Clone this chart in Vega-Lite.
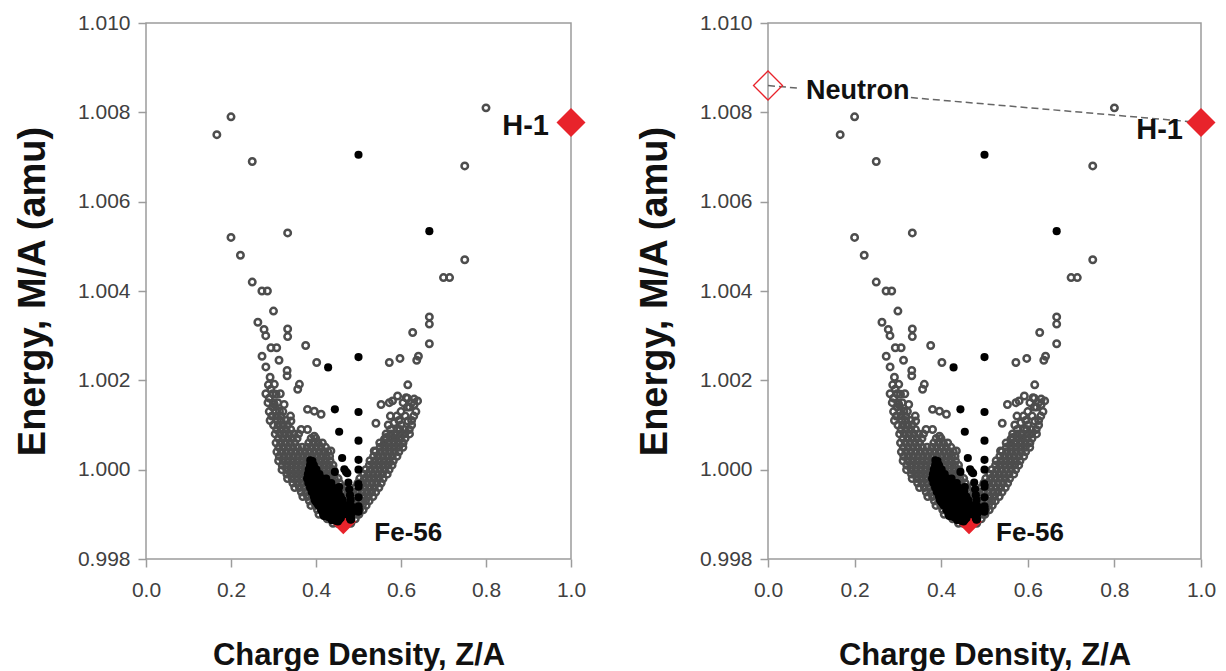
{
"$schema": "https://vega.github.io/schema/vega-lite/v6.json",
"background": "white",
"padding": {"left": 13, "top": 11, "right": 5, "bottom": 0},
"spacing": 48,
"config": {
 "view": {"stroke": "#9c9c9c", "strokeWidth": 1.5},
 "axis": {"domain": false, "grid": false, "labelFlush": false, "tickColor": "#9c9c9c", "tickWidth": 1.5, "tickSize": 8, "labelFont": "Liberation Sans", "labelFontSize": 21, "labelColor": "#404040", "labelPadding": 8, "titleFont": "Liberation Sans", "titleFontWeight": "bold", "titleColor": "#111111"},
 "axisX": {"labelPadding": 12, "titlePadding": 40, "titleFontSize": 31},
 "axisY": {"titlePadding": 25, "titleFontSize": 38}
},
"datasets": {
 "open": [
  {"z":0.1667,"m":1.0075},{"z":0.2,"m":1.0079},{"z":0.25,"m":1.0069},{"z":0.8,"m":1.0081},{"z":0.75,"m":1.0068},{"z":0.2,"m":1.0052},{"z":0.3333,"m":1.0053},{"z":0.2222,"m":1.0048},{"z":0.75,"m":1.0047},{"z":0.25,"m":1.0042},{"z":0.2727,"m":1.004},{"z":0.2857,"m":1.004},{"z":0.7,"m":1.0043},{"z":0.7143,"m":1.0043},{"z":0.3,"m":1.00355},{"z":0.2632,"m":1.0033},{"z":0.2778,"m":1.00314},{"z":0.2817,"m":1.003},{"z":0.3333,"m":1.00315},{"z":0.3333,"m":1.00298},{"z":0.6667,"m":1.00342},{"z":0.6667,"m":1.00326},{"z":0.6275,"m":1.00307},{"z":0.3757,"m":1.00278},{"z":0.6667,"m":1.00282},{"z":0.294,"m":1.00273},{"z":0.3075,"m":1.00273},{"z":0.273,"m":1.00254},{"z":0.313,"m":1.00245},{"z":0.4016,"m":1.0024},{"z":0.5725,"m":1.0024},{"z":0.5976,"m":1.00249},{"z":0.637,"m":1.00245},{"z":0.641,"m":1.00254},{"z":0.282,"m":1.0023},{"z":0.332,"m":1.00222},{"z":0.332,"m":1.0021},{"z":0.292,"m":1.00207},{"z":0.616,"m":1.0019},{"z":0.302,"m":1.00191},{"z":0.294,"m":1.0018},{"z":0.306,"m":1.00169},{"z":0.361,"m":1.00191},{"z":0.357,"m":1.0018},{"z":0.302,"m":1.00146},{"z":0.314,"m":1.00131},{"z":0.325,"m":1.00146},{"z":0.38,"m":1.00135},{"z":0.396,"m":1.00131},{"z":0.412,"m":1.00124},{"z":0.341,"m":1.00109},{"z":0.365,"m":1.0009},{"z":0.38,"m":1.0009},{"z":0.396,"m":1.00075},{"z":0.435,"m":1.00042},{"z":0.592,"m":1.00165},{"z":0.612,"m":1.00161},{"z":0.631,"m":1.00158},{"z":0.631,"m":1.00146},{"z":0.553,"m":1.00146},{"z":0.5725,"m":1.0015},{"z":0.541,"m":1.00104},{"z":0.584,"m":1.00105},{"z":0.616,"m":1.00109},{"z":0.592,"m":1.0009},{"z":0.565,"m":1.00072},{"z":0.584,"m":1.00064},{"z":0.537,"m":1.00042},{"z":0.58,"m":1.00154},{"z":0.639,"m":1.00154},{"z":0.561,"m":1.00068},
  {"z":0.29,"m":1.0016},{"z":0.298,"m":1.0014},{"z":0.31,"m":1.0015},{"z":0.296,"m":1.0012},{"z":0.309,"m":1.0011},{"z":0.318,"m":1.0012},{"z":0.33,"m":1.0011},{"z":0.288,"m":1.0019},{"z":0.316,"m":1.0017},{"z":0.6,"m":1.0013},{"z":0.61,"m":1.0012},{"z":0.62,"m":1.0014},{"z":0.625,"m":1.0011},{"z":0.595,"m":1.0011},{"z":0.575,"m":1.0012},
  {"z":0.282,"m":1.0017},{"z":0.298,"m":1.0017},{"z":0.287,"m":1.0015},{"z":0.3,"m":1.0015},{"z":0.29,"m":1.0013},{"z":0.305,"m":1.0013},{"z":0.322,"m":1.0013},{"z":0.307,"m":1.0012},{"z":0.34,"m":1.0012},{"z":0.292,"m":1.0011},{"z":0.318,"m":1.0011},{"z":0.605,"m":1.0015},{"z":0.615,"m":1.0016},{"z":0.625,"m":1.0015},{"z":0.635,"m":1.0013},{"z":0.615,"m":1.0014},{"z":0.59,"m":1.0012},{"z":0.63,"m":1.0012},
  {"z":0.3,"m":1.001},{"z":0.311,"m":1.001},{"z":0.322,"m":1.001},{"z":0.333,"m":1.001},{"z":0.57,"m":1.001},{"z":0.6,"m":1.001},{"z":0.625,"m":1.001},
  {"z":0.3075,"m":1.0009},{"z":0.3185,"m":1.0009},{"z":0.3295,"m":1.0009},{"z":0.3405,"m":1.0009},{"z":0.5755,"m":1.0009},{"z":0.5975,"m":1.0009},{"z":0.6085,"m":1.0009},{"z":0.6195,"m":1.0009},
  {"z":0.304,"m":1.0008},{"z":0.315,"m":1.0008},{"z":0.326,"m":1.0008},{"z":0.337,"m":1.0008},{"z":0.348,"m":1.0008},{"z":0.359,"m":1.0008},{"z":0.565,"m":1.0008},{"z":0.576,"m":1.0008},{"z":0.587,"m":1.0008},{"z":0.598,"m":1.0008},{"z":0.609,"m":1.0008},{"z":0.62,"m":1.0008},
  {"z":0.3115,"m":1.0007},{"z":0.3225,"m":1.0007},{"z":0.3335,"m":1.0007},{"z":0.3445,"m":1.0007},{"z":0.3555,"m":1.0007},{"z":0.3885,"m":1.0007},{"z":0.3995,"m":1.0007},{"z":0.5655,"m":1.0007},{"z":0.5765,"m":1.0007},{"z":0.5875,"m":1.0007},{"z":0.5985,"m":1.0007},{"z":0.6095,"m":1.0007},
  {"z":0.306,"m":1.0006},{"z":0.317,"m":1.0006},{"z":0.328,"m":1.0006},{"z":0.339,"m":1.0006},{"z":0.35,"m":1.0006},{"z":0.383,"m":1.0006},{"z":0.394,"m":1.0006},{"z":0.405,"m":1.0006},{"z":0.415,"m":1.0006},{"z":0.55,"m":1.0006},{"z":0.561,"m":1.0006},{"z":0.572,"m":1.0006},{"z":0.583,"m":1.0006},{"z":0.594,"m":1.0006},{"z":0.605,"m":1.0006},
  {"z":0.3125,"m":1.0005},{"z":0.3235,"m":1.0005},{"z":0.3345,"m":1.0005},{"z":0.3455,"m":1.0005},{"z":0.3565,"m":1.0005},{"z":0.3675,"m":1.0005},{"z":0.3785,"m":1.0005},{"z":0.3895,"m":1.0005},{"z":0.4005,"m":1.0005},{"z":0.4115,"m":1.0005},{"z":0.4225,"m":1.0005},{"z":0.5505,"m":1.0005},{"z":0.5615,"m":1.0005},{"z":0.5725,"m":1.0005},{"z":0.5835,"m":1.0005},{"z":0.5945,"m":1.0005},{"z":0.6045,"m":1.0005},
  {"z":0.308,"m":1.0004},{"z":0.319,"m":1.0004},{"z":0.33,"m":1.0004},{"z":0.341,"m":1.0004},{"z":0.352,"m":1.0004},{"z":0.363,"m":1.0004},{"z":0.374,"m":1.0004},{"z":0.385,"m":1.0004},{"z":0.396,"m":1.0004},{"z":0.407,"m":1.0004},{"z":0.418,"m":1.0004},{"z":0.428,"m":1.0004},{"z":0.54,"m":1.0004},{"z":0.551,"m":1.0004},{"z":0.562,"m":1.0004},{"z":0.573,"m":1.0004},{"z":0.584,"m":1.0004},{"z":0.595,"m":1.0004},
  {"z":0.3135,"m":1.0003},{"z":0.3245,"m":1.0003},{"z":0.3355,"m":1.0003},{"z":0.3465,"m":1.0003},{"z":0.3575,"m":1.0003},{"z":0.3685,"m":1.0003},{"z":0.3795,"m":1.0003},{"z":0.3905,"m":1.0003},{"z":0.4015,"m":1.0003},{"z":0.4125,"m":1.0003},{"z":0.4235,"m":1.0003},{"z":0.432,"m":1.0003},{"z":0.5355,"m":1.0003},{"z":0.5465,"m":1.0003},{"z":0.5575,"m":1.0003},{"z":0.5685,"m":1.0003},{"z":0.5795,"m":1.0003},{"z":0.5905,"m":1.0003},
  {"z":0.312,"m":1.0002},{"z":0.323,"m":1.0002},{"z":0.334,"m":1.0002},{"z":0.345,"m":1.0002},{"z":0.356,"m":1.0002},{"z":0.367,"m":1.0002},{"z":0.378,"m":1.0002},{"z":0.389,"m":1.0002},{"z":0.4,"m":1.0002},{"z":0.411,"m":1.0002},{"z":0.422,"m":1.0002},{"z":0.433,"m":1.0002},{"z":0.527,"m":1.0002},{"z":0.538,"m":1.0002},{"z":0.549,"m":1.0002},{"z":0.56,"m":1.0002},{"z":0.571,"m":1.0002},{"z":0.582,"m":1.0002},
  {"z":0.3205,"m":1.0001},{"z":0.3315,"m":1.0001},{"z":0.3425,"m":1.0001},{"z":0.3535,"m":1.0001},{"z":0.3645,"m":1.0001},{"z":0.3755,"m":1.0001},{"z":0.3865,"m":1.0001},{"z":0.3975,"m":1.0001},{"z":0.4085,"m":1.0001},{"z":0.4195,"m":1.0001},{"z":0.4305,"m":1.0001},{"z":0.44,"m":1.0001},{"z":0.5255,"m":1.0001},{"z":0.5365,"m":1.0001},{"z":0.5475,"m":1.0001},{"z":0.5585,"m":1.0001},{"z":0.5695,"m":1.0001},{"z":0.579,"m":1.0001},
  {"z":0.32,"m":1.0},{"z":0.331,"m":1.0},{"z":0.342,"m":1.0},{"z":0.353,"m":1.0},{"z":0.364,"m":1.0},{"z":0.375,"m":1.0},{"z":0.386,"m":1.0},{"z":0.397,"m":1.0},{"z":0.408,"m":1.0},{"z":0.419,"m":1.0},{"z":0.43,"m":1.0},{"z":0.441,"m":1.0},{"z":0.517,"m":1.0},{"z":0.528,"m":1.0},{"z":0.539,"m":1.0},{"z":0.55,"m":1.0},{"z":0.561,"m":1.0},{"z":0.572,"m":1.0},
  {"z":0.3315,"m":0.9999},{"z":0.3425,"m":0.9999},{"z":0.3535,"m":0.9999},{"z":0.3645,"m":0.9999},{"z":0.3755,"m":0.9999},{"z":0.3865,"m":0.9999},{"z":0.3975,"m":0.9999},{"z":0.4085,"m":0.9999},{"z":0.4195,"m":0.9999},{"z":0.4305,"m":0.9999},{"z":0.4415,"m":0.9999},{"z":0.5125,"m":0.9999},{"z":0.5235,"m":0.9999},{"z":0.5345,"m":0.9999},{"z":0.5455,"m":0.9999},{"z":0.5565,"m":0.9999},{"z":0.5675,"m":0.9999},
  {"z":0.333,"m":0.9998},{"z":0.344,"m":0.9998},{"z":0.355,"m":0.9998},{"z":0.366,"m":0.9998},{"z":0.377,"m":0.9998},{"z":0.388,"m":0.9998},{"z":0.399,"m":0.9998},{"z":0.41,"m":0.9998},{"z":0.421,"m":0.9998},{"z":0.432,"m":0.9998},{"z":0.443,"m":0.9998},{"z":0.452,"m":0.9998},{"z":0.503,"m":0.9998},{"z":0.514,"m":0.9998},{"z":0.525,"m":0.9998},{"z":0.536,"m":0.9998},{"z":0.547,"m":0.9998},{"z":0.558,"m":0.9998},
  {"z":0.3455,"m":0.9997},{"z":0.3565,"m":0.9997},{"z":0.3675,"m":0.9997},{"z":0.3785,"m":0.9997},{"z":0.3895,"m":0.9997},{"z":0.4005,"m":0.9997},{"z":0.4115,"m":0.9997},{"z":0.4225,"m":0.9997},{"z":0.4335,"m":0.9997},{"z":0.4445,"m":0.9997},{"z":0.4555,"m":0.9997},{"z":0.4985,"m":0.9997},{"z":0.5095,"m":0.9997},{"z":0.5205,"m":0.9997},{"z":0.5315,"m":0.9997},{"z":0.5425,"m":0.9997},{"z":0.5535,"m":0.9997},
  {"z":0.35,"m":0.9996},{"z":0.361,"m":0.9996},{"z":0.372,"m":0.9996},{"z":0.383,"m":0.9996},{"z":0.394,"m":0.9996},{"z":0.405,"m":0.9996},{"z":0.416,"m":0.9996},{"z":0.427,"m":0.9996},{"z":0.438,"m":0.9996},{"z":0.449,"m":0.9996},{"z":0.46,"m":0.9996},{"z":0.471,"m":0.9996},{"z":0.493,"m":0.9996},{"z":0.504,"m":0.9996},{"z":0.515,"m":0.9996},{"z":0.526,"m":0.9996},{"z":0.537,"m":0.9996},{"z":0.548,"m":0.9996},
  {"z":0.3655,"m":0.9995},{"z":0.3765,"m":0.9995},{"z":0.3875,"m":0.9995},{"z":0.3985,"m":0.9995},{"z":0.4095,"m":0.9995},{"z":0.4205,"m":0.9995},{"z":0.4315,"m":0.9995},{"z":0.4425,"m":0.9995},{"z":0.4535,"m":0.9995},{"z":0.4645,"m":0.9995},{"z":0.4755,"m":0.9995},{"z":0.4865,"m":0.9995},{"z":0.4975,"m":0.9995},{"z":0.5085,"m":0.9995},{"z":0.5195,"m":0.9995},{"z":0.5305,"m":0.9995},{"z":0.5405,"m":0.9995},
  {"z":0.369,"m":0.9994},{"z":0.38,"m":0.9994},{"z":0.391,"m":0.9994},{"z":0.402,"m":0.9994},{"z":0.413,"m":0.9994},{"z":0.424,"m":0.9994},{"z":0.435,"m":0.9994},{"z":0.446,"m":0.9994},{"z":0.457,"m":0.9994},{"z":0.468,"m":0.9994},{"z":0.479,"m":0.9994},{"z":0.49,"m":0.9994},{"z":0.501,"m":0.9994},{"z":0.512,"m":0.9994},{"z":0.523,"m":0.9994},{"z":0.534,"m":0.9994},
  {"z":0.3845,"m":0.9993},{"z":0.3955,"m":0.9993},{"z":0.4065,"m":0.9993},{"z":0.4175,"m":0.9993},{"z":0.4285,"m":0.9993},{"z":0.4395,"m":0.9993},{"z":0.4505,"m":0.9993},{"z":0.4615,"m":0.9993},{"z":0.4725,"m":0.9993},{"z":0.4835,"m":0.9993},{"z":0.4945,"m":0.9993},{"z":0.5055,"m":0.9993},{"z":0.5165,"m":0.9993},{"z":0.525,"m":0.9993},
  {"z":0.388,"m":0.9992},{"z":0.399,"m":0.9992},{"z":0.41,"m":0.9992},{"z":0.421,"m":0.9992},{"z":0.432,"m":0.9992},{"z":0.443,"m":0.9992},{"z":0.454,"m":0.9992},{"z":0.465,"m":0.9992},{"z":0.476,"m":0.9992},{"z":0.487,"m":0.9992},{"z":0.498,"m":0.9992},{"z":0.509,"m":0.9992},{"z":0.518,"m":0.9992},
  {"z":0.4035,"m":0.9991},{"z":0.4145,"m":0.9991},{"z":0.4255,"m":0.9991},{"z":0.4365,"m":0.9991},{"z":0.4475,"m":0.9991},{"z":0.4585,"m":0.9991},{"z":0.4695,"m":0.9991},{"z":0.4805,"m":0.9991},{"z":0.4915,"m":0.9991},{"z":0.5025,"m":0.9991},{"z":0.511,"m":0.9991},
  {"z":0.407,"m":0.999},{"z":0.418,"m":0.999},{"z":0.429,"m":0.999},{"z":0.44,"m":0.999},{"z":0.451,"m":0.999},{"z":0.462,"m":0.999},{"z":0.473,"m":0.999},{"z":0.484,"m":0.999},{"z":0.495,"m":0.999},{"z":0.501,"m":0.999},
  {"z":0.4265,"m":0.9989},{"z":0.4375,"m":0.9989},{"z":0.4485,"m":0.9989},{"z":0.4595,"m":0.9989},{"z":0.4705,"m":0.9989},{"z":0.4815,"m":0.9989},{"z":0.4925,"m":0.9989},
  {"z":0.44,"m":0.9988},{"z":0.451,"m":0.9988},{"z":0.473,"m":0.9988},{"z":0.482,"m":0.9988}
 ],
 "stab": [
  {"z":0.5,"m":1.00705},{"z":0.6667,"m":1.00534},{"z":0.5,"m":1.00065},{"z":0.5,"m":1.00252},{"z":0.4286,"m":1.00229},{"z":0.4444,"m":1.00135},{"z":0.5,"m":1.00129},{"z":0.4545,"m":1.00085},{"z":0.5,"m":1.0},{"z":0.4615,"m":1.00026},{"z":0.5,"m":1.00022},{"z":0.4667,"m":1.00001},{"z":0.5,"m":0.99968},{"z":0.4706,"m":0.99995},{"z":0.4444,"m":0.99995},{"z":0.4737,"m":0.99992},{"z":0.5,"m":0.99962},{"z":0.4762,"m":0.99971},{"z":0.4545,"m":0.99961},{"z":0.4783,"m":0.99956},{"z":0.5,"m":0.99938},{"z":0.48,"m":0.99943},{"z":0.4615,"m":0.99933},{"z":0.4815,"m":0.99932},{"z":0.5,"m":0.99918},{"z":0.4828,"m":0.99919},{"z":0.4667,"m":0.99913},{"z":0.4839,"m":0.99915},{"z":0.5,"m":0.99913},{"z":0.4848,"m":0.99914},{"z":0.4706,"m":0.99905},{"z":0.4444,"m":0.99909},{"z":0.4857,"m":0.99911},{"z":0.4595,"m":0.99908},{"z":0.5,"m":0.9991},{"z":0.4737,"m":0.99902},{"z":0.45,"m":0.99906},{"z":0.4872,"m":0.99907},{"z":0.4634,"m":0.99907},{"z":0.5,"m":0.99906},{"z":0.4762,"m":0.99901},{"z":0.4545,"m":0.99899},{"z":0.4167,"m":0.99901},{"z":0.4583,"m":0.99892},{"z":0.4815,"m":0.99888},{"z":0.4828,"m":0.99889},{"z":0.4516,"m":0.99884},{"z":0.4324,"m":0.99894},{"z":0.425,"m":0.99896},{"z":0.4286,"m":0.99894},{"z":0.4318,"m":0.99893},{"z":0.4444,"m":0.99894},
  {"z":0.3866,"m":1.00021},{"z":0.3915,"m":1.00019},{"z":0.3879,"m":1.00016},{"z":0.3923,"m":0.99991},{"z":0.3942,"m":0.99989},{"z":0.398,"m":0.99988},{"z":0.3961,"m":0.99988},{"z":0.3951,"m":0.99988},{"z":0.4,"m":0.99984},{"z":0.404,"m":0.99983},{"z":0.401,"m":0.99983},{"z":0.4021,"m":0.99981},{"z":0.3939,"m":0.99984},{"z":0.3979,"m":0.99981},{"z":0.4,"m":0.99978},{"z":0.4043,"m":0.99977},{"z":0.3984,"m":0.99976},{"z":0.4066,"m":0.99972},{"z":0.3978,"m":0.99976},{"z":0.4033,"m":0.99971},{"z":0.4045,"m":0.99968},{"z":0.4,"m":0.9997},{"z":0.4022,"m":0.99973},{"z":0.3958,"m":0.9998},{"z":0.4,"m":0.99966},{"z":0.407,"m":0.99963},{"z":0.3977,"m":0.99967},{"z":0.4023,"m":0.99965},{"z":0.4048,"m":0.9996},{"z":0.4096,"m":0.99958},{"z":0.4,"m":0.99958},{"z":0.4024,"m":0.99957},{"z":0.4074,"m":0.99955},{"z":0.4088,"m":0.99953},{"z":0.4103,"m":0.9995},{"z":0.4,"m":0.99954},{"z":0.4051,"m":0.99952},{"z":0.4118,"m":0.99948},{"z":0.4133,"m":0.99945},{"z":0.4026,"m":0.9995},{"z":0.4079,"m":0.99947},{"z":0.411,"m":0.9994},{"z":0.4,"m":0.99947},{"z":0.4167,"m":0.99938},{"z":0.4225,"m":0.99935},{"z":0.4113,"m":0.99935},{"z":0.4143,"m":0.99932},{"z":0.4058,"m":0.99931},{"z":0.4118,"m":0.9993},{"z":0.4179,"m":0.99929},{"z":0.3971,"m":0.99932},{"z":0.4091,"m":0.99927},{"z":0.4186,"m":0.99926},{"z":0.4219,"m":0.99926},{"z":0.4,"m":0.99928},{"z":0.4127,"m":0.99923},{"z":0.4063,"m":0.99925},{"z":0.4173,"m":0.99925},{"z":0.4167,"m":0.99919},{"z":0.431,"m":0.99915},{"z":0.4237,"m":0.99917},{"z":0.4032,"m":0.99924},{"z":0.4211,"m":0.99915},{"z":0.4286,"m":0.99913},{"z":0.4364,"m":0.99912},{"z":0.434,"m":0.99909},{"z":0.4259,"m":0.99911},{"z":0.4393,"m":0.99911},{"z":0.4356,"m":0.99907},{"z":0.4231,"m":0.99909},{"z":0.4314,"m":0.99906},{"z":0.4286,"m":0.99904},{"z":0.4375,"m":0.99901},{"z":0.4565,"m":0.99899},{"z":0.42,"m":0.99907},{"z":0.4409,"m":0.99899},{"z":0.4255,"m":0.999},{"z":0.4348,"m":0.99897},{"z":0.4382,"m":0.99894},{"z":0.4419,"m":0.99895},{"z":0.4186,"m":0.99896},{"z":0.439,"m":0.99894},{"z":0.4353,"m":0.99896},{"z":0.4359,"m":0.99894},{"z":0.4474,"m":0.99895},{"z":0.44,"m":0.99895},{"z":0.4444,"m":0.99892},{"z":0.4571,"m":0.99892},{"z":0.4493,"m":0.99892},{"z":0.4366,"m":0.99894},{"z":0.4545,"m":0.99888},{"z":0.4412,"m":0.99889},{"z":0.4462,"m":0.99889},{"z":0.4375,"m":0.99887},{"z":0.4483,"m":0.99885},{"z":0.48,"m":0.99892},{"z":0.4528,"m":0.99888},{"z":0.4444,"m":0.99887},{"z":0.451,"m":0.9989},{"z":0.4783,"m":0.99897},{"z":0.44,"m":0.9989},{"z":0.4667,"m":0.99902},{"z":0.4651,"m":0.999},{"z":0.4348,"m":0.99899},
  {"z":0.386,"m":1.0001},{"z":0.395,"m":1.0001},
  {"z":0.383,"m":1.0},{"z":0.392,"m":1.0},{"z":0.401,"m":1.0},
  {"z":0.381,"m":0.9999},{"z":0.39,"m":0.9999},{"z":0.399,"m":0.9999},{"z":0.408,"m":0.9999},
  {"z":0.379,"m":0.9998},{"z":0.388,"m":0.9998},{"z":0.397,"m":0.9998},{"z":0.406,"m":0.9998},{"z":0.415,"m":0.9998},{"z":0.424,"m":0.9998},
  {"z":0.382,"m":0.9997},{"z":0.391,"m":0.9997},{"z":0.4,"m":0.9997},{"z":0.409,"m":0.9997},{"z":0.418,"m":0.9997},{"z":0.427,"m":0.9997},{"z":0.436,"m":0.9997},
  {"z":0.386,"m":0.9996},{"z":0.395,"m":0.9996},{"z":0.404,"m":0.9996},{"z":0.413,"m":0.9996},{"z":0.422,"m":0.9996},{"z":0.431,"m":0.9996},{"z":0.44,"m":0.9996},
  {"z":0.39,"m":0.9995},{"z":0.399,"m":0.9995},{"z":0.408,"m":0.9995},{"z":0.417,"m":0.9995},{"z":0.426,"m":0.9995},{"z":0.435,"m":0.9995},{"z":0.444,"m":0.9995},{"z":0.453,"m":0.9995},
  {"z":0.395,"m":0.9994},{"z":0.404,"m":0.9994},{"z":0.413,"m":0.9994},{"z":0.422,"m":0.9994},{"z":0.431,"m":0.9994},{"z":0.44,"m":0.9994},{"z":0.449,"m":0.9994},{"z":0.458,"m":0.9994},
  {"z":0.4,"m":0.9993},{"z":0.409,"m":0.9993},{"z":0.418,"m":0.9993},{"z":0.427,"m":0.9993},{"z":0.436,"m":0.9993},{"z":0.445,"m":0.9993},{"z":0.454,"m":0.9993},{"z":0.463,"m":0.9993},
  {"z":0.406,"m":0.9992},{"z":0.415,"m":0.9992},{"z":0.424,"m":0.9992},{"z":0.433,"m":0.9992},{"z":0.442,"m":0.9992},{"z":0.451,"m":0.9992},{"z":0.46,"m":0.9992},{"z":0.469,"m":0.9992},
  {"z":0.412,"m":0.9991},{"z":0.421,"m":0.9991},{"z":0.43,"m":0.9991},{"z":0.439,"m":0.9991},{"z":0.448,"m":0.9991},{"z":0.457,"m":0.9991},{"z":0.466,"m":0.9991},{"z":0.475,"m":0.9991},
  {"z":0.42,"m":0.999},{"z":0.429,"m":0.999},{"z":0.438,"m":0.999},{"z":0.447,"m":0.999},{"z":0.456,"m":0.999},{"z":0.474,"m":0.999},{"z":0.483,"m":0.999},
  {"z":0.436,"m":0.9989},{"z":0.445,"m":0.9989},{"z":0.481,"m":0.9989}
 ],
 "sp": [
  {"k":"H-1","z":1.0,"m":1.00777},
  {"k":"Fe-56","z":0.4643,"m":0.99884},
  {"k":"Neutron","z":0.0,"m":1.0086}
 ],
 "ln": [
  {"seg":1,"z":0.0,"m":1.0086},{"seg":1,"z":0.07,"m":1.00854},
  {"seg":2,"z":0.33,"m":1.00833},{"seg":2,"z":1.0,"m":1.00777}
 ]
},
"hconcat": [
 {
  "width": 425, "height": 536,
  "encoding": {
   "x": {"field": "z", "type": "quantitative", "scale": {"domain": [0, 1], "nice": false, "zero": false}, "axis": {"values": [0, 0.2, 0.4, 0.6, 0.8, 1], "format": ".1f", "title": "Charge Density, Z/A"}},
   "y": {"field": "m", "type": "quantitative", "scale": {"domain": [0.998, 1.01], "nice": false, "zero": false}, "axis": {"values": [0.998, 1.0, 1.002, 1.004, 1.006, 1.008, 1.01], "format": ".3f", "title": "Energy, M/A (amu)"}}
  },
  "layer": [
   {"data": {"name": "open"}, "mark": {"type": "point", "shape": "circle", "filled": false, "stroke": "#4d4d4d", "strokeWidth": 2.5, "size": 42, "opacity": 1}},
   {"data": {"name": "sp"}, "transform": [{"filter": "datum.k == 'Fe-56'"}], "mark": {"type": "point", "shape": "diamond", "filled": true, "color": "#e8232b", "size": 650, "opacity": 1}},
   {"data": {"name": "stab"}, "mark": {"type": "circle", "color": "#000000", "size": 66, "opacity": 1}},
   {"data": {"name": "sp"}, "transform": [{"filter": "datum.k == 'H-1'"}], "mark": {"type": "point", "shape": "diamond", "filled": true, "color": "#e8232b", "size": 840, "opacity": 1}},
   {"data": {"name": "sp"}, "transform": [{"filter": "datum.k == 'H-1'"}], "mark": {"type": "text", "align": "right", "baseline": "middle", "dx": -22, "dy": 3, "font": "Liberation Sans", "fontSize": 29, "fontWeight": "bold", "color": "#111111"}, "encoding": {"text": {"field": "k"}}},
   {"data": {"name": "sp"}, "transform": [{"filter": "datum.k == 'Fe-56'"}], "mark": {"type": "text", "align": "left", "baseline": "middle", "dx": 31, "dy": 12, "font": "Liberation Sans", "fontSize": 26, "fontWeight": "bold", "color": "#111111"}, "encoding": {"text": {"field": "k"}}}
  ]
 },
 {
  "width": 433, "height": 536,
  "encoding": {
   "x": {"field": "z", "type": "quantitative", "scale": {"domain": [0, 1], "nice": false, "zero": false}, "axis": {"values": [0, 0.2, 0.4, 0.6, 0.8, 1], "format": ".1f", "title": "Charge Density, Z/A"}},
   "y": {"field": "m", "type": "quantitative", "scale": {"domain": [0.998, 1.01], "nice": false, "zero": false}, "axis": {"values": [0.998, 1.0, 1.002, 1.004, 1.006, 1.008, 1.01], "format": ".3f", "title": "Energy, M/A (amu)"}}
  },
  "layer": [
   {"data": {"name": "open"}, "mark": {"type": "point", "shape": "circle", "filled": false, "stroke": "#4d4d4d", "strokeWidth": 2.5, "size": 42, "opacity": 1}},
   {"data": {"name": "sp"}, "transform": [{"filter": "datum.k == 'Fe-56'"}], "mark": {"type": "point", "shape": "diamond", "filled": true, "color": "#e8232b", "size": 650, "opacity": 1}},
   {"data": {"name": "stab"}, "mark": {"type": "circle", "color": "#000000", "size": 66, "opacity": 1}},
   {"data": {"name": "ln"}, "mark": {"type": "line", "color": "#666666", "strokeWidth": 1.5, "strokeDash": [7, 4]}, "encoding": {"detail": {"field": "seg"}}},
   {"data": {"name": "sp"}, "transform": [{"filter": "datum.k == 'H-1'"}], "mark": {"type": "point", "shape": "diamond", "filled": true, "color": "#e8232b", "size": 840, "opacity": 1}},
   {"data": {"name": "sp"}, "transform": [{"filter": "datum.k == 'Neutron'"}], "mark": {"type": "point", "shape": "diamond", "filled": false, "stroke": "#e8232b", "strokeWidth": 1.3, "size": 840, "opacity": 1}},
   {"data": {"name": "sp"}, "transform": [{"filter": "datum.k == 'H-1'"}], "mark": {"type": "text", "align": "right", "baseline": "middle", "dx": -18, "dy": 7, "font": "Liberation Sans", "fontSize": 29, "fontWeight": "bold", "color": "#111111"}, "encoding": {"text": {"field": "k"}}},
   {"data": {"name": "sp"}, "transform": [{"filter": "datum.k == 'Fe-56'"}], "mark": {"type": "text", "align": "left", "baseline": "middle", "dx": 27, "dy": 12, "font": "Liberation Sans", "fontSize": 26, "fontWeight": "bold", "color": "#111111"}, "encoding": {"text": {"field": "k"}}},
   {"data": {"name": "sp"}, "transform": [{"filter": "datum.k == 'Neutron'"}], "mark": {"type": "text", "align": "left", "baseline": "middle", "dx": 38, "dy": 5, "font": "Liberation Sans", "fontSize": 27, "fontWeight": "bold", "color": "#111111"}, "encoding": {"text": {"field": "k"}}}
  ]
 }
]
}
